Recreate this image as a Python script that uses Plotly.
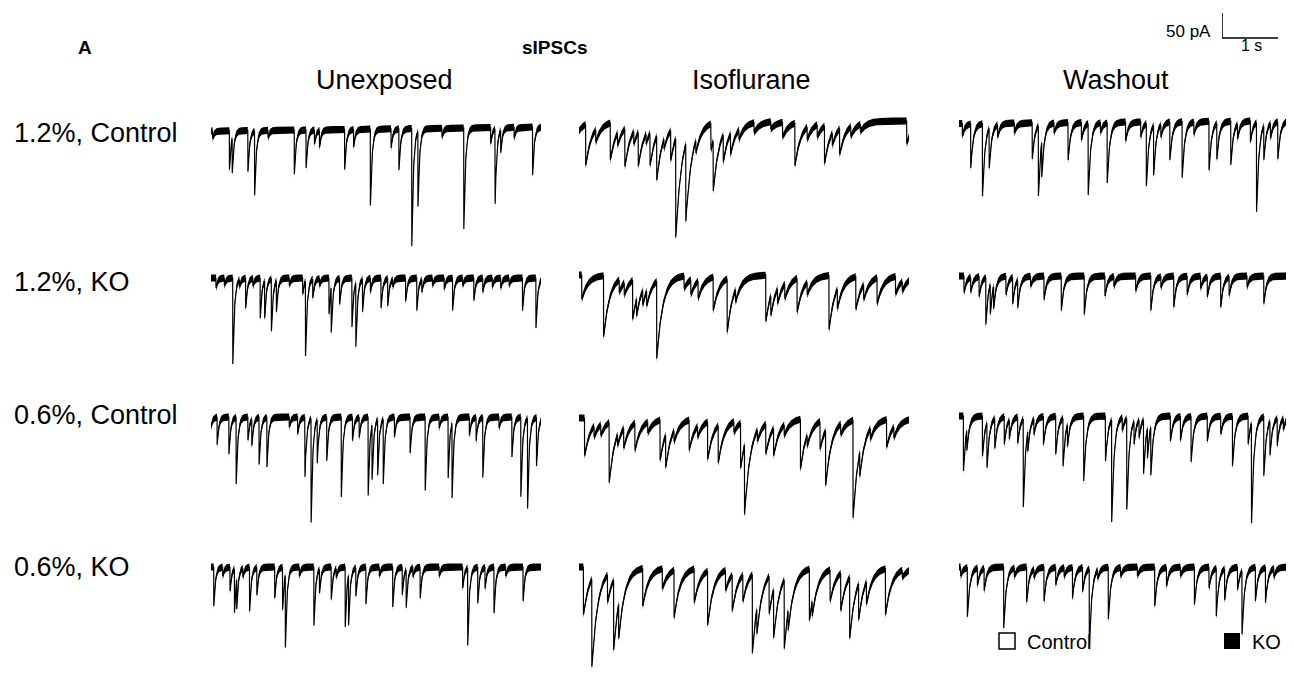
import numpy as np
import plotly.graph_objects as go

# ---------------- data ----------------
conditions = ["Unexposed", "Isoflurane", "Washout"]
groups = ["1.2%, Control", "1.2%, KO", "0.6%, Control", "0.6%, KO"]
trace_duration_s = 5.9
sample_step_s = 0.002
noise_half_pa = 7.0
decay_tau_s = [0.03, 0.11, 0.045]          # per condition
scale_bar_s = 1.0
scale_bar_pa = 50.0

# 1.2 %, Control
c12_unexp_t = [0.03, 0.33, 0.38, 0.66, 0.78, 1.02, 1.49, 1.70, 1.85, 1.94, 2.39, 2.55, 2.85, 3.22,
               3.36, 3.59, 3.70, 4.13, 4.52, 5.00, 5.08, 5.18, 5.42, 5.75]
c12_unexp_a = [15, 78, 70, 82, 128, 15, 88, 76, 28, 34, 80, 35, 153, 38,
               82, 235, 150, 18, 202, 32, 150, 45, 22, 96]
c12_iso_t = [0.0, 0.12, 0.30, 0.56, 0.69, 0.82, 0.98, 1.06, 1.20, 1.27, 1.39, 1.52, 1.64, 1.73,
             1.91, 2.09, 2.36, 2.40, 2.58, 2.71, 2.86, 3.13, 3.43, 3.64, 3.86, 4.08, 4.26, 4.39,
             4.53, 4.66, 4.86, 5.03, 5.86]
c12_iso_a = [20, 82, 25, 74, 25, 76, 25, 68, 20, 65, 88, 20, 60, 198,
             155, 25, 52, 100, 55, 42, 20, 20, 15, 30, 85, 25, 25, 75,
             25, 52, 20, 15, 45]
c12_wash_t = [0.06, 0.21, 0.42, 0.54, 0.69, 0.99, 1.31, 1.42, 1.48, 1.70, 1.95, 2.19, 2.31, 2.53,
              2.65, 2.98, 3.25, 3.35, 3.48, 3.61, 3.77, 3.99, 4.20, 4.47, 4.61, 4.86, 4.98, 5.21,
              5.32, 5.45, 5.57, 5.70]
c12_wash_a = [25, 88, 145, 80, 25, 20, 72, 140, 70, 20, 75, 35, 143, 20,
              120, 38, 30, 125, 100, 25, 76, 112, 25, 98, 72, 87, 30, 42,
              178, 68, 30, 75]

# 1.2 %, KO
k12_unexp_t = [0.09, 0.24, 0.39, 0.51, 0.62, 0.75, 0.88, 0.96, 1.08, 1.17, 1.40, 1.64, 1.69, 1.82,
               1.94, 2.11, 2.15, 2.30, 2.52, 2.59, 2.71, 2.85, 3.04, 3.16, 3.25, 3.48, 3.68, 3.77,
               3.96, 4.17, 4.32, 4.50, 4.70, 4.86, 5.03, 5.18, 5.33, 5.57, 5.81]
k12_unexp_a = [20, 15, 172, 15, 60, 15, 80, 75, 105, 62, 15, 32, 150, 38,
               15, 72, 90, 52, 98, 128, 65, 28, 60, 55, 15, 47, 65, 25,
               15, 22, 65, 15, 45, 28, 18, 20, 15, 65, 100]
k12_iso_t = [0.05, 0.44, 0.72, 0.81, 0.96, 1.03, 1.14, 1.21, 1.39, 1.88, 2.00, 2.13, 2.40, 2.65,
             2.80, 3.34, 3.43, 3.55, 3.68, 3.90, 4.08, 4.47, 4.62, 4.95, 5.09, 5.33, 5.66, 5.78]
k12_iso_a = [48, 122, 25, 25, 78, 35, 30, 30, 155, 25, 30, 35, 67, 107,
             25, 92, 40, 30, 30, 68, 25, 108, 40, 65, 30, 52, 35, 20]
k12_wash_t = [0.09, 0.21, 0.36, 0.48, 0.56, 0.62, 0.84, 0.96, 1.05, 1.28, 1.52, 1.83, 2.24, 2.61,
              2.77, 3.16, 3.43, 3.61, 3.84, 4.08, 4.32, 4.44, 4.68, 4.83, 5.15, 5.45]
k12_wash_a = [33, 30, 40, 94, 60, 45, 37, 53, 56, 20, 47, 69, 77, 40,
              20, 30, 69, 22, 62, 37, 25, 40, 62, 37, 22, 55]

# 0.6 %, Control
c06_unexp_t = [0.0, 0.11, 0.32, 0.45, 0.66, 0.73, 0.86, 1.00, 1.40, 1.55, 1.68, 1.79, 1.90, 2.07,
               2.33, 2.53, 2.65, 2.81, 2.88, 2.98, 3.08, 3.28, 3.56, 3.83, 4.08, 4.24, 4.31, 4.62,
               4.74, 4.86, 5.15, 5.38, 5.54, 5.66, 5.82]
c06_unexp_a = [20, 55, 74, 133, 46, 53, 94, 99, 20, 34, 119, 208, 87, 87,
               160, 47, 40, 157, 110, 112, 130, 40, 72, 147, 22, 122, 150, 37,
               47, 120, 22, 80, 159, 180, 97]
c06_iso_t = [0.10, 0.27, 0.39, 0.54, 0.69, 0.80, 1.00, 1.23, 1.45, 1.55, 1.70, 1.97, 2.12, 2.30,
             2.49, 2.77, 2.89, 2.96, 3.19, 3.34, 3.48, 3.67, 3.96, 4.08, 4.31, 4.41, 4.68, 4.90,
             5.02, 5.21, 5.50, 5.63]
c06_iso_a = [75, 22, 22, 120, 22, 40, 55, 22, 80, 65, 22, 60, 22, 75,
             75, 22, 90, 140, 22, 60, 55, 22, 100, 22, 55, 110, 22, 195,
             50, 22, 55, 22]
c06_wash_t = [0.08, 0.14, 0.42, 0.50, 0.64, 0.81, 0.90, 1.05, 1.15, 1.23, 1.34, 1.51, 1.73, 1.86,
              1.94, 2.23, 2.62, 2.73, 2.92, 3.00, 3.13, 3.22, 3.30, 3.37, 3.43, 3.78, 3.96, 4.15,
              4.44, 4.68, 4.89, 5.17, 5.23, 5.45, 5.56, 5.69, 5.80]
c06_wash_a = [110, 40, 80, 90, 60, 55, 38, 53, 176, 40, 31, 56, 76, 96,
              44, 130, 90, 204, 26, 182, 46, 36, 108, 60, 96, 50, 48, 91,
              50, 36, 100, 56, 199, 118, 68, 55, 22]

# 0.6 %, KO
k06_unexp_t = [0.05, 0.21, 0.34, 0.42, 0.46, 0.57, 0.69, 0.82, 1.14, 1.28, 1.33, 1.58, 1.84, 1.94,
               2.15, 2.24, 2.40, 2.46, 2.59, 2.77, 3.01, 3.25, 3.42, 3.49, 3.61, 3.74, 4.08, 4.50,
               4.59, 4.77, 4.90, 5.06, 5.27, 5.58]
k06_unexp_a = [78, 18, 48, 88, 60, 18, 88, 55, 62, 85, 145, 18, 117, 48,
               65, 18, 120, 100, 57, 74, 18, 80, 55, 76, 18, 62, 18, 42,
               155, 72, 42, 92, 18, 68]
k06_iso_t = [0.08, 0.23, 0.51, 0.62, 0.71, 1.14, 1.49, 1.70, 2.06, 2.30, 2.62, 2.74, 2.93, 3.10,
             3.18, 3.40, 3.48, 3.67, 3.74, 4.12, 4.17, 4.49, 4.68, 4.84, 5.00, 5.14, 5.48, 5.78]
k06_iso_a = [95, 175, 55, 140, 70, 75, 40, 95, 67, 108, 40, 72, 53, 158,
             50, 75, 97, 138, 40, 103, 30, 63, 75, 122, 72, 45, 92, 15]
k06_wash_t = [0.03, 0.15, 0.33, 0.45, 0.80, 0.99, 1.21, 1.34, 1.52, 1.73, 1.88, 2.03, 2.21, 2.33,
              2.48, 2.67, 2.89, 3.19, 3.50, 3.71, 3.96, 4.21, 4.47, 4.60, 4.75, 4.98, 5.06, 5.30,
              5.48, 5.63]
k06_wash_a = [18, 98, 35, 45, 122, 18, 70, 18, 68, 35, 18, 62, 48, 160,
              18, 104, 18, 18, 78, 38, 18, 75, 42, 96, 63, 45, 127, 67,
              70, 18]

# slow baseline drift (pA at start, pA at end) per trace
drift_pa = [
    [(-4, 4), (0, 0), (-3, 3)],
    [(0, 0), (0, 0), (0, 0)],
    [(0, 0), (0, 0), (0, 0)],
    [(0, 0), (0, 0), (0, 0)],
]

events = [
    [(c12_unexp_t, c12_unexp_a), (c12_iso_t, c12_iso_a), (c12_wash_t, c12_wash_a)],
    [(k12_unexp_t, k12_unexp_a), (k12_iso_t, k12_iso_a), (k12_wash_t, k12_wash_a)],
    [(c06_unexp_t, c06_unexp_a), (c06_iso_t, c06_iso_a), (c06_wash_t, c06_wash_a)],
    [(k06_unexp_t, k06_unexp_a), (k06_iso_t, k06_iso_a), (k06_wash_t, k06_wash_a)],
]

# ---------------- layout geometry (pixels of the 1294x688 page) ----------------
PAGE_W, PAGE_H = 1294, 688
BODY_OFF = 8                      # the page puts the figure 8 px in from the top-left
W, H = PAGE_W - BODY_OFF, PAGE_H - BODY_OFF


def fx(px):
    return (px - BODY_OFF) / W


def fy(py):
    return 1 - (py - BODY_OFF) / H


col_x0_px = [211, 579, 959]
trace_w_px = 330
row_base_px = [[129, 121, 122], [278, 275, 276], [417, 418, 416], [567, 567, 567]]
pa_per_px = 2.0
above_px, below_px = 40, 160


def build(times, amps, tau, drift):
    t = np.arange(0.0, trace_duration_s + sample_step_s / 2, sample_step_s)
    y = np.linspace(drift[0], drift[1], t.size)
    for ti, a in zip(times, amps):
        m = t >= ti
        y[m] -= a * np.exp(-(t[m] - ti) / tau)
    return t, y


fig = go.Figure()
layout_axes = {}
k = 0
for r in range(4):
    for c in range(3):
        k += 1
        xa = "x" if k == 1 else f"x{k}"
        ya = "y" if k == 1 else f"y{k}"
        t, y = build(events[r][c][0], events[r][c][1], decay_tau_s[c], drift_pa[r][c])
        upper = y + noise_half_pa
        lower = y - noise_half_pa
        fig.add_trace(go.Scatter(
            x=np.concatenate([t, t[::-1]]), y=np.concatenate([upper, lower[::-1]]),
            fill="toself", fillcolor="black", line=dict(width=0), mode="lines",
            hoverinfo="skip", showlegend=False, xaxis=xa, yaxis=ya))
        fig.add_trace(go.Scatter(x=t, y=y, mode="lines", line=dict(color="black", width=1.2),
                                 showlegend=False, xaxis=xa, yaxis=ya, hoverinfo="skip"))
        base = row_base_px[r][c]
        top_px = base - above_px
        bot_px = min(base + below_px, PAGE_H - 2)
        x0 = col_x0_px[c]
        kx = "xaxis" if k == 1 else f"xaxis{k}"
        ky = "yaxis" if k == 1 else f"yaxis{k}"
        layout_axes[kx] = dict(domain=[fx(x0), fx(x0 + trace_w_px)], range=[0, trace_duration_s],
                               visible=False, anchor=ya, fixedrange=True)
        layout_axes[ky] = dict(domain=[fy(bot_px), fy(top_px)],
                               range=[-(bot_px - base) * pa_per_px, (base - top_px) * pa_per_px],
                               visible=False, anchor=xa, fixedrange=True)

# scale bar axis (same px/unit as traces)
k += 1
sb_x0, sb_base = 1222, 38
px_per_s = trace_w_px / trace_duration_s
sb_span_s = 1.15
layout_axes[f"xaxis{k}"] = dict(domain=[fx(sb_x0), fx(sb_x0 + sb_span_s * px_per_s)],
                               range=[0, sb_span_s], visible=False, anchor=f"y{k}", fixedrange=True)
layout_axes[f"yaxis{k}"] = dict(domain=[fy(sb_base + 20), fy(sb_base - 30)],
                               range=[-20 * pa_per_px, 30 * pa_per_px],
                               visible=False, anchor=f"x{k}", fixedrange=True)
fig.add_trace(go.Scatter(x=[0, 0, scale_bar_s], y=[scale_bar_pa, 0, 0], mode="lines",
                         line=dict(color="black", width=1.5), showlegend=False,
                         xaxis=f"x{k}", yaxis=f"y{k}", hoverinfo="skip"))

font = "Arial, Liberation Sans, sans-serif"

# legend entries (one legend box each, so they sit where the reference puts them)
fig.add_trace(go.Scatter(x=[None], y=[None], mode="markers", name="Control", legend="legend",
                         marker=dict(symbol="square-open", size=16, color="black",
                                     line=dict(color="black", width=1.5))))
fig.add_trace(go.Scatter(x=[None], y=[None], mode="markers", name="KO", legend="legend2",
                         marker=dict(symbol="square", size=16, color="black")))

ann = []
ann.append(dict(text="<b>A</b>", x=fx(85), y=fy(47), font=dict(size=19)))
ann.append(dict(text="<b>sIPSCs</b>", x=fx(554), y=fy(47), font=dict(size=19)))
for name, cx in zip(conditions, [384, 751, 1116]):
    ann.append(dict(text=name, x=fx(cx), y=fy(80), font=dict(size=27)))
for name, cy in zip(groups, [133, 282, 415, 567]):
    ann.append(dict(text=name, x=fx(12), y=fy(cy), xanchor="left", font=dict(size=27)))
ann.append(dict(text="50 pA", x=fx(1213), y=fy(32), xanchor="right", font=dict(size=17)))
ann.append(dict(text="1 s", x=fx(1251), y=fy(45), font=dict(size=16)))
for a in ann:
    a.setdefault("xanchor", "center")
    a.update(xref="paper", yref="paper", yanchor="middle", showarrow=False)
    a["font"].update(family=font, color="black")

legend_common = dict(orientation="h", yanchor="middle", xanchor="left",
                     font=dict(size=20, family=font, color="black"),
                     bgcolor="rgba(0,0,0,0)", borderwidth=0)

fig.update_layout(
    width=W, height=H, margin=dict(l=0, r=0, t=0, b=0, autoexpand=False),
    paper_bgcolor="white", plot_bgcolor="rgba(0,0,0,0)",
    font=dict(family=font, color="black"),
    annotations=ann,
    showlegend=True,
    legend=dict(x=fx(987), y=fy(641), **legend_common),
    legend2=dict(x=fx(1212), y=fy(641), **legend_common),
    **layout_axes,
)

fig.write_html("out.html")
